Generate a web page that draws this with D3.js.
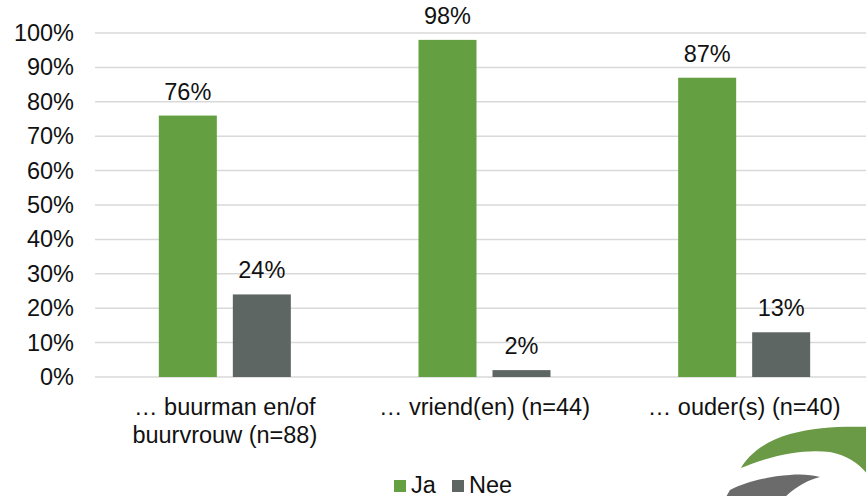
<!DOCTYPE html>
<html>
<head>
<meta charset="utf-8">
<script src="https://cdn.jsdelivr.net/npm/d3@7"></script>
<style>
  body { margin: 0; background: #fff; }
  text { font-family: "Liberation Sans", Arial, sans-serif; fill: #111; }
</style>
</head>
<body>
<div id="chart"></div>
<script>
// data
var categories = ["… buurman en/of|buurvrouw (n=88)", "… vriend(en) (n=44)", "… ouder(s) (n=40)"];
var series = ["Ja", "Nee"];
var jaValues = [76, 98, 87];
var neeValues = [24, 2, 13];
var yTicks = [0, 10, 20, 30, 40, 50, 60, 70, 80, 90, 100];
var colors = { "Ja": "#64a041", "Nee": "#5e6664" };

var svgWidth = 866;
var svgHeight = 496;
var margin = { top: 33, right: -8, bottom: 119, left: 95 };
var width = svgWidth - margin.left - margin.right;
var height = svgHeight - margin.top - margin.bottom;
var fontSize = "23.5px";

var svg = d3.select("#chart")
  .append("svg")
  .attr("width", svgWidth)
  .attr("height", svgHeight)
  .style("display", "block");

var chartGroup = svg.append("g")
  .attr("transform", `translate(${margin.left}, ${margin.top})`);

// build rows from the arrays
var rows = categories.map(function (c, i) {
  return { cat: c, Ja: jaValues[i], Nee: neeValues[i] };
});

var x0 = d3.scaleBand()
  .domain(categories)
  .range([0, width])
  .padding(0);

var groupWidth = 132;
var x1 = d3.scaleBand()
  .domain(series)
  .range([0, groupWidth])
  .paddingInner(16 / 74);

var y = d3.scaleLinear()
  .domain([0, 100])
  .range([height, 0]);

// gridlines
chartGroup.append("g")
  .selectAll("line")
  .data(yTicks)
  .enter()
  .append("line")
  .attr("x1", 0)
  .attr("x2", width)
  .attr("y1", d => y(d))
  .attr("y2", d => y(d))
  .attr("stroke", "#d9d9d9")
  .attr("stroke-width", 1.5);

// y axis labels
var leftAxis = d3.axisLeft(y)
  .tickValues(yTicks)
  .tickFormat(d => d + "%")
  .tickSize(0)
  .tickPadding(21);

var yAxis = chartGroup.append("g").call(leftAxis);
yAxis.select(".domain").remove();
yAxis.selectAll("text")
  .attr("font-size", fontSize)
  .attr("font-family", "Liberation Sans, Arial, sans-serif")
  .attr("fill", "#111");

// bars
var groups = chartGroup.selectAll(".grp")
  .data(rows)
  .enter()
  .append("g")
  .attr("class", "grp")
  .attr("transform", d => `translate(${x0(d.cat) + x0.bandwidth() / 2 - groupWidth / 2}, 0)`);

var bars = groups.selectAll("rect")
  .data(d => series.map(s => ({ key: s, value: d[s] })))
  .enter();

bars.append("rect")
  .attr("x", d => x1(d.key))
  .attr("y", d => y(d.value))
  .attr("width", x1.bandwidth())
  .attr("height", d => height - y(d.value))
  .attr("fill", d => colors[d.key]);

bars.append("text")
  .attr("x", d => x1(d.key) + x1.bandwidth() / 2)
  .attr("y", d => y(d.value) - 16)
  .attr("text-anchor", "middle")
  .attr("font-size", fontSize)
  .text(d => d.value + "%");

// category labels
var catLabels = chartGroup.selectAll(".cat")
  .data(categories)
  .enter()
  .append("text")
  .attr("class", "cat")
  .attr("text-anchor", "middle")
  .attr("font-size", fontSize)
  .attr("y", height + 38);

catLabels.each(function (d) {
  var lines = d.split("|");
  var t = d3.select(this);
  lines.forEach(function (line, i) {
    t.append("tspan")
      .attr("x", x0(d) + x0.bandwidth() / 2)
      .attr("dy", i === 0 ? 0 : 28)
      .text(line);
  });
});

// legend
var legend = svg.append("g")
  .attr("transform", "translate(394, 480)");

var legendX = d3.scaleOrdinal().domain(series).range([0, 58]);

var items = legend.selectAll(".leg")
  .data(series)
  .enter()
  .append("g")
  .attr("transform", d => `translate(${legendX(d)}, 0)`);

items.append("rect")
  .attr("width", 12)
  .attr("height", 12)
  .attr("fill", d => colors[d]);

items.append("text")
  .attr("x", 17)
  .attr("y", 12.5)
  .attr("font-size", fontSize)
  .text(d => d);

// logo in the corner
var logo = svg.append("g");
logo.append("path")
  .attr("d", "M741,468 C748,455 765,441 790,434 C815,427 845,426 870,427 L870,478 C862,466 850,456 830,452 C805,449 775,454 741,468 Z")
  .attr("fill", "#6a9a45");
logo.append("path")
  .attr("d", "M726,497 L730,490 C745,482 770,476 790,475 C802,474 812,475 820,477 C808,480 797,486 785,497 Z")
  .attr("fill", "#6b6b6b");
</script>
</body>
</html>
